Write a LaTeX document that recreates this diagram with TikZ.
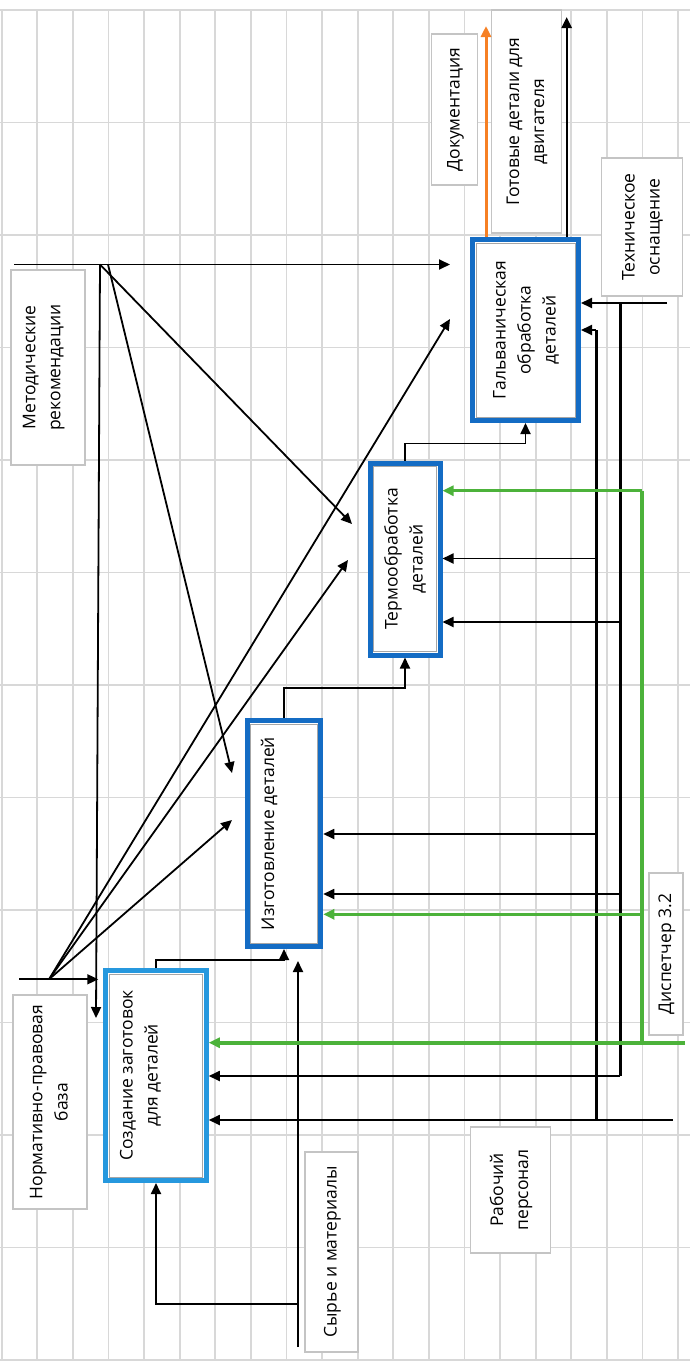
\documentclass[tikz,border=0pt]{standalone}
\usepackage{fontspec}
\setmainfont{Open Sans}
\usepackage{graphicx}
\usetikzlibrary{arrows.meta}

\definecolor{gridgray}{RGB}{216,216,216}
\definecolor{boxgray}{RGB}{196,196,196}
\definecolor{procblue}{RGB}{20,108,196}
\definecolor{sozdblue}{RGB}{38,152,222}
\definecolor{dispgreen}{RGB}{76,178,58}
\definecolor{docorange}{RGB}{246,128,36}

\newcommand{\vtext}[2][0pt]{\rotatebox{90}{\raisebox{#1}[\height][\depth]{\begin{tabular}{@{}c@{}}#2\end{tabular}}}}

\tikzset{
  gridline/.style={draw=gridgray, line width=1.8pt},
  labelbox/.style={draw=boxgray, line width=1.5pt, fill=white, inner sep=1pt},
  procbox/.style={draw=procblue, line width=5pt, fill=white, inner sep=1pt,
    path picture={\draw[gray!70, line width=1pt]
      ([xshift=3.5pt,yshift=-3.5pt]path picture bounding box.north west) rectangle
      ([xshift=-3.5pt,yshift=3.5pt]path picture bounding box.south east);}},
  arr/.style={-{Triangle[length=11pt,width=10pt]}, line width=1.8pt},
  mechline/.style={line width=3pt},
  garr/.style={-{Triangle[length=11pt,width=10pt]}, draw=dispgreen, line width=3pt},
  oarr/.style={-{Triangle[length=11pt,width=10pt]}, draw=docorange, line width=3pt}
}

\begin{document}
\begin{tikzpicture}[x=1pt,y=-1pt,font=\fontsize{17.5}{25}\selectfont]
\useasboundingbox (0,0) rectangle (690,1365);
\foreach \i in {0,...,19}
  \draw[gridline] (1.7+35.6*\i,10) -- (1.7+35.6*\i,1361);
\foreach \j in {0,...,12}
  \draw[gridline] (0,10+112.5*\j) -- (690,10+112.5*\j);

\node[procbox, minimum width=106pt, minimum height=181pt] (galv) at (525.5,330) {\vtext{Гальваническая\\обработка\\деталей}};
\node[procbox, minimum width=70pt, minimum height=192pt] (termo) at (405,559) {\vtext{Термообработка\\деталей}};
\node[procbox, minimum width=73.5pt, minimum height=226pt] (izgot) at (284,833.5) {\vtext[15pt]{Изготовление деталей}};
\node[procbox, draw=sozdblue, minimum width=100.5pt, minimum height=210pt] (sozd) at (156,1075.5) {\vtext[16pt]{Создание заготовок\\для деталей}};

\node[labelbox, minimum width=74pt, minimum height=195pt] (metod) at (48,367.5) {\vtext[5pt]{Методические\\рекомендации}};
\node[labelbox, minimum width=74pt, minimum height=214pt] (norm) at (50,1102) {\vtext{Нормативно-правовая\\база}};
\node[labelbox, minimum width=53pt, minimum height=200pt] (syr) at (331.5,1252) {\vtext{Сырье и материалы}};
\node[labelbox, minimum width=80pt, minimum height=126pt] (rab) at (510.6,1190) {\vtext{Рабочий\\персонал}};
\node[labelbox, minimum width=34pt, minimum height=162pt] (disp) at (666,954) {\vtext{Диспетчер 3.2}};
\node[labelbox, minimum width=46pt, minimum height=151pt] (docum) at (454.7,109.5) {\vtext{Документация}};
\node[labelbox, minimum width=70pt, minimum height=223pt] (gotov) at (526.7,121.5) {\vtext{Готовые детали для\\двигателя}};
\node[labelbox, minimum width=81pt, minimum height=138pt] (tehn) at (642.2,227) {\vtext{Техническое\\оснащение}};

\coordinate (m0) at (14,264.5);
\coordinate (m1) at (100,264.5);
\coordinate (m2) at (108,264.5);
\coordinate (n0) at (19,979.3);
\coordinate (n1) at (49,979.3);
\coordinate (cg1) at (450,319);
\coordinate (ct1) at (352,524);
\coordinate (ct2) at (348,560);
\coordinate (ci1) at (232,773);
\coordinate (ci2) at (232,820);
\coordinate (cs1) at (96,1018);

\draw[arr] (m0) -- ([xshift=-20pt]galv.west |- m0);
\draw[arr] (m1) -- (cs1);
\draw[arr] (m1) -- (ct1);
\draw[arr] (m2) -- (ci1);
\draw[arr] (n0) -- ([xshift=-5pt]sozd.west |- n0);
\draw[arr] (n1) -- (cg1);
\draw[arr] (n1) -- (ct2);
\draw[arr] (n1) -- (ci2);

\draw[arr] (sozd.north) -- ++(0,-8) -| (izgot.south);
\draw[arr] (izgot.north) -- ++(0,-30) -| (termo.south);
\draw[arr] (termo.north) -- ++(0,-17) -| (galv.south);

\coordinate (docout) at (486,26);
\coordinate (detout) at (566.7,17);
\draw[oarr] (galv.north -| docout) -- (docout);
\draw[arr, line width=2.4pt] (galv.north -| detout) -- (detout);

\coordinate (s0) at (298,1347);
\coordinate (s1) at (298,1304);
\draw[arr, shorten >=12pt] (s0) -- (s0 |- izgot.south);
\draw[arr] (s1) -| (sozd.south);

\coordinate (tin) at (667,303);
\coordinate (va0) at (620,303);
\coordinate (va1) at (620,1076);
\coordinate (a1) at (620,622);
\coordinate (a2) at (620,894);
\coordinate (vb0) at (596,330);
\coordinate (vb1) at (596,1120);
\coordinate (b1) at (596,558.5);
\coordinate (b2) at (596,834);
\coordinate (rin) at (672.7,1120);

\draw[arr] (tin) -- (tin -| galv.east);
\draw[mechline] (va0) -- (va1);
\draw[arr] (va1) -- (va1 -| sozd.east);
\draw[arr] (a1) -- (a1 -| termo.east);
\draw[arr] (a2) -- (a2 -| izgot.east);
\draw[mechline] (vb0) -- (vb1);
\draw[arr] (vb0) -- (vb0 -| galv.east);
\draw[arr] (b1) -- (b1 -| termo.east);
\draw[arr] (b2) -- (b2 -| izgot.east);
\draw[arr] (rin) -- (rin -| sozd.east);

\coordinate (g0) at (642,490.7);
\coordinate (g1) at (642,1042.7);
\coordinate (g2) at (642,914.3);
\coordinate (gin) at (685,1042.7);
\draw[garr] (g0) -- (g0 -| termo.east);
\draw[draw=dispgreen, line width=3.5pt] (g0) -- (g1);
\draw[garr] (g2) -- (g2 -| izgot.east);
\draw[garr, line width=3.8pt] (gin) -- (gin -| sozd.east);
\end{tikzpicture}
\end{document}
